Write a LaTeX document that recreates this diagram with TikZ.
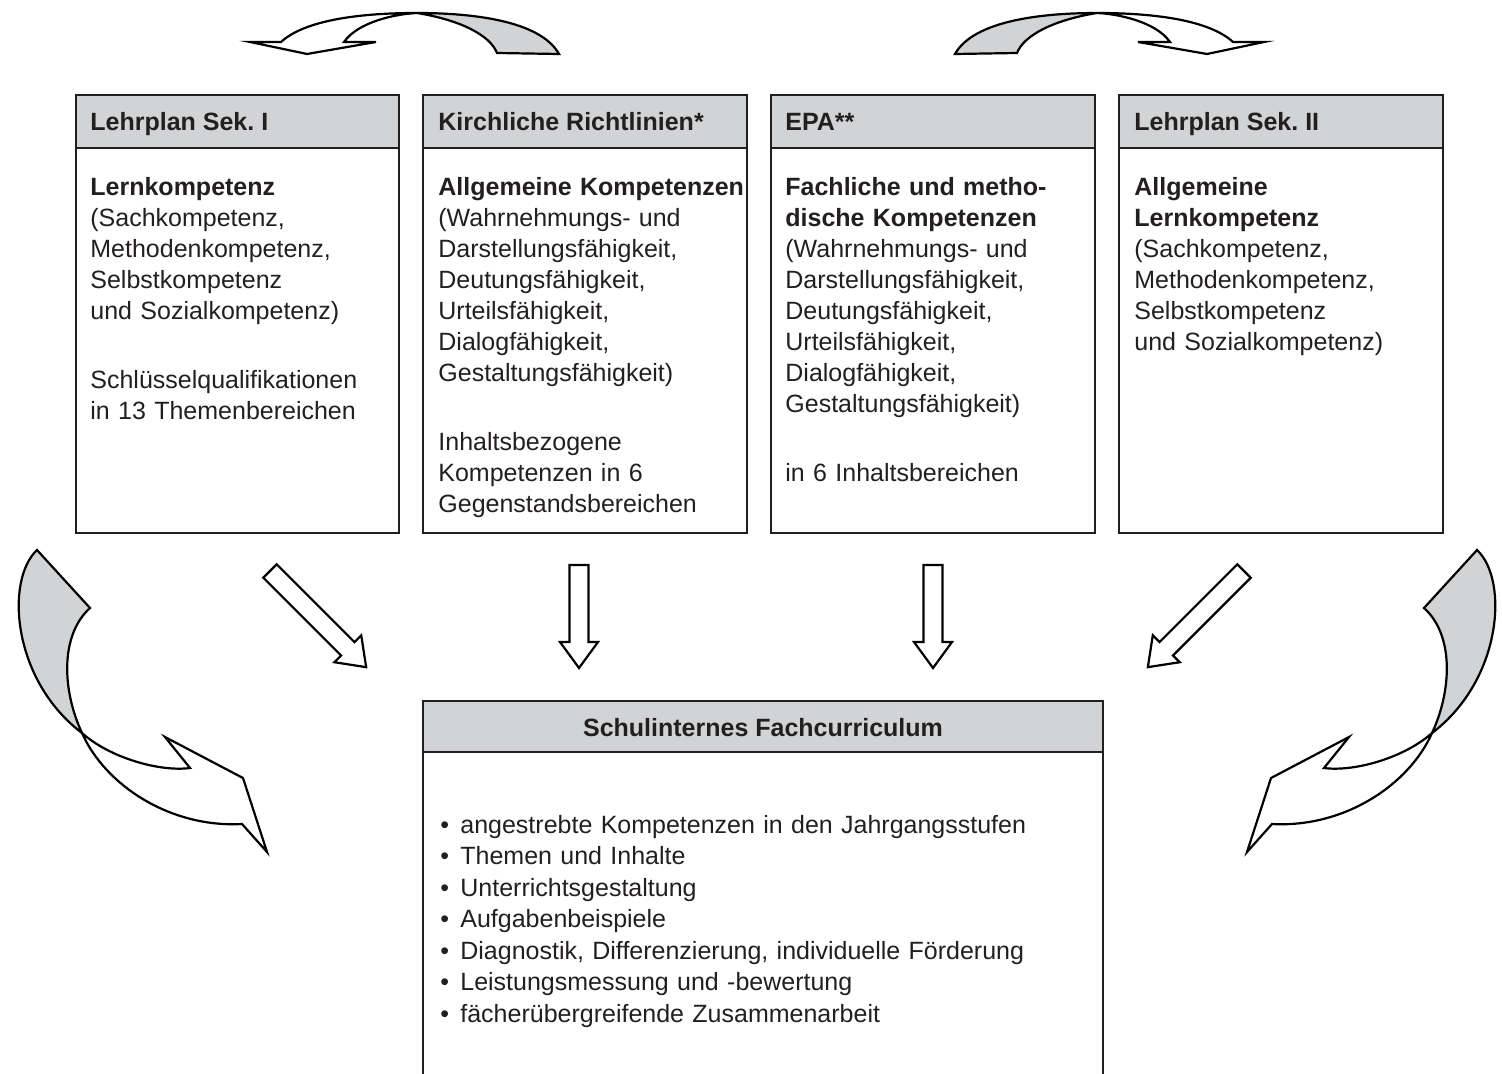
\documentclass[tikz,border=0pt]{standalone}
\usepackage{fontspec}
\setmainfont{Liberation Sans}
\frenchspacing
\definecolor{hdr}{RGB}{209,211,212}
\definecolor{ink}{RGB}{35,31,32}
\newcommand{\hollowarr}[4]{%
  \draw[arrowline, fill=white, shift={(#1,#2)}, rotate=#3]
    (0,-9.5) -- (#4,-9.5) -- (#4,-19) -- (#4+26,0) -- (#4,19) -- (#4,9.5) -- (0,9.5) -- cycle;}
\newcommand{\panelbox}[2]{%
  \fill[hdr] (#1,95) rectangle (#2,148);
  \draw[boxline] (#1,95) rectangle (#2,533) (#1,148) -- (#2,148);}
\begin{document}
\begin{tikzpicture}[x=0.5pt,y=-0.5pt,
  boxline/.style={draw=ink, line width=0.8pt},
  arrowline/.style={draw=black, line width=1.1pt, line join=miter},
  hdrtext/.style={anchor=base west, inner sep=0pt, font=\fontsize{12.5}{15.5}\selectfont\bfseries, text=ink},
  bodytext/.style={anchor=base west, inner sep=0pt, text width=158pt, align=left, font=\fontsize{12.5}{15.5}\selectfont, text=ink}]
\useasboundingbox (0,0) rectangle (1502,1074);
\clip (0,0) rectangle (1502,1074);

% top boxes
\panelbox{76}{399}
\panelbox{423}{747}
\panelbox{771}{1095}
\panelbox{1119}{1443}

\node[hdrtext] (h1) at (90,131) {Lehrplan Sek. I};
\node[hdrtext] (h2) at (438,131) {Kirchliche Richtlinien*};
\node[hdrtext] (h3) at (785,131) {EPA**};
\node[hdrtext] (h4) at (1134,131) {Lehrplan Sek. II};

\node[bodytext] (t1) at (90,196) {\textbf{Lernkompetenz}\\(Sachkompetenz,\\Methodenkompetenz,\\Selbstkompetenz\\und Sozialkompetenz)\\[19pt]Schlüsselqualifikationen\\in 13 Themenbereichen};
\node[bodytext] (t2) at (438,196) {\textbf{Allgemeine Kompetenzen}\\(Wahrnehmungs- und\\Darstellungsfähigkeit,\\Deutungsfähigkeit,\\Urteilsfähigkeit,\\Dialogfähigkeit,\\Gestaltungsfähigkeit)\\[19pt]Inhaltsbezogene\\Kompetenzen in 6\\Gegenstandsbereichen};
\node[bodytext] (t3) at (785,196) {\textbf{Fachliche und metho-}\\\textbf{dische Kompetenzen}\\(Wahrnehmungs- und\\Darstellungsfähigkeit,\\Deutungsfähigkeit,\\Urteilsfähigkeit,\\Dialogfähigkeit,\\Gestaltungsfähigkeit)\\[19pt]in 6 Inhaltsbereichen};
\node[bodytext] (t4) at (1134,196) {\textbf{Allgemeine}\\\textbf{Lernkompetenz}\\(Sachkompetenz,\\Methodenkompetenz,\\Selbstkompetenz\\und Sozialkompetenz)};

% bottom box
\fill[hdr] (423,701) rectangle (1103,752);
\draw[boxline] (423,1090) -- (423,701) -- (1103,701) -- (1103,1090) (423,752) -- (1103,752);
\node[hdrtext, anchor=base] (h5) at (763,736) {Schulinternes Fachcurriculum};
\node[bodytext, text width=320pt, font=\fontsize{12.5}{15.75}\selectfont] (t5) at (440,833) {%
\makebox[10pt][l]{\textbullet}angestrebte Kompetenzen in den Jahrgangsstufen\\
\makebox[10pt][l]{\textbullet}Themen und Inhalte\\
\makebox[10pt][l]{\textbullet}Unterrichtsgestaltung\\
\makebox[10pt][l]{\textbullet}Aufgabenbeispiele\\
\makebox[10pt][l]{\textbullet}Diagnostik, Differenzierung, individuelle Förderung\\
\makebox[10pt][l]{\textbullet}Leistungsmessung und -bewertung\\
\makebox[10pt][l]{\textbullet}fächerübergreifende Zusammenarbeit};

% straight hollow arrows
\hollowarr{270}{571}{-45}{110}
\hollowarr{579}{565}{-90}{77}
\hollowarr{933}{565}{-90}{77}
\hollowarr{1244}{571}{-135}{110}

% curved arrows (left versions, mirrored for right)
\foreach \mirror in {0,1}{
\begin{scope}[shift={(1514*\mirror,0)}, xscale=1-2*\mirror]
  % top curved arrow
  \filldraw[arrowline, fill=hdr] (417,13) .. controls (470,13) and (540,20) .. (559,54)
     -- (497,53) .. controls (490,35) and (460,20) .. (417,13) -- cycle;
  \filldraw[arrowline, fill=white] (281,42) .. controls (305,20) and (360,13) .. (417,13)
     .. controls (395,14) and (358,22) .. (344,42) -- (376,42) -- (307,54) -- (250,42) -- cycle;
  % side curved arrow
  \filldraw[arrowline, fill=hdr] (37,550) -- (90,608) .. controls (60,635) and (62,690) .. (82,733)
     .. controls (12,680) and (5,580) .. (37,550) -- cycle;
  \filldraw[arrowline, fill=white] (82,733) .. controls (110,758) and (160,772) .. (190,768)
     -- (165,737) -- (243,778) -- (267,852) -- (242,824)
     .. controls (170,828) and (105,785) .. (82,733) -- cycle;
\end{scope}
}
\end{tikzpicture}
\end{document}
